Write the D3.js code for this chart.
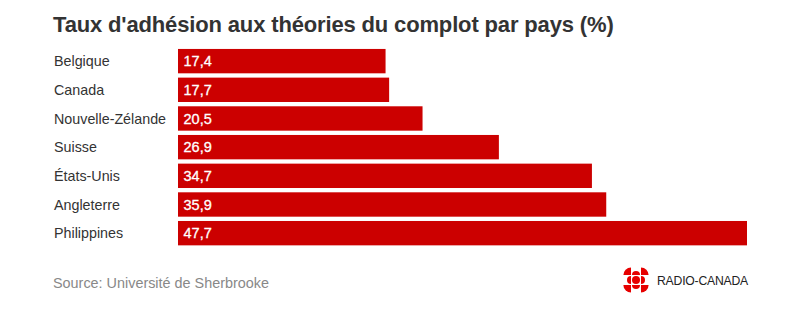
<!DOCTYPE html>
<html>
<head>
<meta charset="utf-8">
<script src="https://cdn.jsdelivr.net/npm/d3@7"></script>
<style>
  body { margin: 0; background: #fff; }
  text { font-family: "Liberation Sans", Arial, Helvetica, sans-serif; }
</style>
</head>
<body>
<div class="vis-holder"></div>
<script>
// data
var countries = ["Belgique", "Canada", "Nouvelle-Zélande", "Suisse", "États-Unis", "Angleterre", "Philippines"];
var values = [17.4, 17.7, 20.5, 26.9, 34.7, 35.9, 47.7];
var valueLabels = ["17,4", "17,7", "20,5", "26,9", "34,7", "35,9", "47,7"];

var width = 800;
var height = 310;

var svg = d3.select(".vis-holder")
            .append("svg")
            .attr("width", width)
            .attr("height", height);

// x scale: percent -> pixels
var xScale = d3.scaleLinear()
               .domain([0, 47.7])
               .range([178, 747]);

// y scale: one band per country
var yScale = d3.scaleBand()
               .domain(countries)
               .range([46.8, 247.5])
               .paddingInner(0.15)
               .paddingOuter(0.075);

var rows = countries.map(function(c, i) {
  return { country: c, value: values[i], label: valueLabels[i] };
});

// title
svg.append("text")
   .attr("x", 53)
   .attr("y", 32)
   .attr("font-size", 22)
   .attr("font-weight", "bold")
   .attr("fill", "#333")
   .attr("letter-spacing", -0.15)
   .text("Taux d'adhésion aux théories du complot par pays (%)");

// bars
svg.append("g")
   .selectAll("rect")
   .data(rows)
   .enter()
   .append("rect")
   .attr("x", xScale(0))
   .attr("y", function(d) { return yScale(d.country); })
   .attr("width", function(d) { return xScale(d.value) - xScale(0); })
   .attr("height", yScale.bandwidth())
   .attr("fill", "#cc0000");

// country names
svg.append("g")
   .selectAll("text")
   .data(rows)
   .enter()
   .append("text")
   .attr("x", 54)
   .attr("y", function(d) { return yScale(d.country) + yScale.bandwidth() / 2; })
   .attr("dy", "0.36em")
   .attr("font-size", 14.3)
   .attr("fill", "#333")
   .text(function(d) { return d.country; });

// values inside the bars
svg.append("g")
   .selectAll("text")
   .data(rows)
   .enter()
   .append("text")
   .attr("x", xScale(0) + 5.5)
   .attr("y", function(d) { return yScale(d.country) + yScale.bandwidth() / 2; })
   .attr("dy", "0.36em")
   .attr("font-size", 14.5)
   .attr("fill", "#fff")
   .attr("stroke", "#fff")
   .attr("stroke-width", 0.3)
   .text(function(d) { return d.label; });

// source
svg.append("text")
   .attr("x", 53)
   .attr("y", 288)
   .attr("font-size", 14.4)
   .attr("fill", "#888")
   .text("Source: Université de Sherbrooke");

// Radio-Canada gem, rough
var gem = svg.append("g").attr("transform", "translate(636,280)");
var r = 4, g = 1;
gem.append("circle").attr("r", r).attr("fill", "#e60000");
var half = d3.arc().innerRadius(0).outerRadius(r).startAngle(-Math.PI / 2).endAngle(Math.PI / 2);
var quarter = d3.arc().innerRadius(0).outerRadius(r * 1.9).startAngle(0).endAngle(Math.PI / 2);
[0, 90, 180, 270].forEach(function(a) {
  gem.append("path")
     .attr("d", half())
     .attr("fill", "#e60000")
     .attr("transform", "rotate(" + a + ") translate(0," + (-(r + g)) + ")");
  gem.append("path")
     .attr("d", quarter())
     .attr("fill", "#e60000")
     .attr("transform", "rotate(" + a + ") translate(" + (r + g) + "," + (-(r + g)) + ")");
});

svg.append("text")
   .attr("x", 657)
   .attr("y", 285)
   .attr("font-size", 12.2)
   .attr("fill", "#222")
   .attr("letter-spacing", -0.2)
   .text("RADIO-CANADA");
</script>
</body>
</html>
